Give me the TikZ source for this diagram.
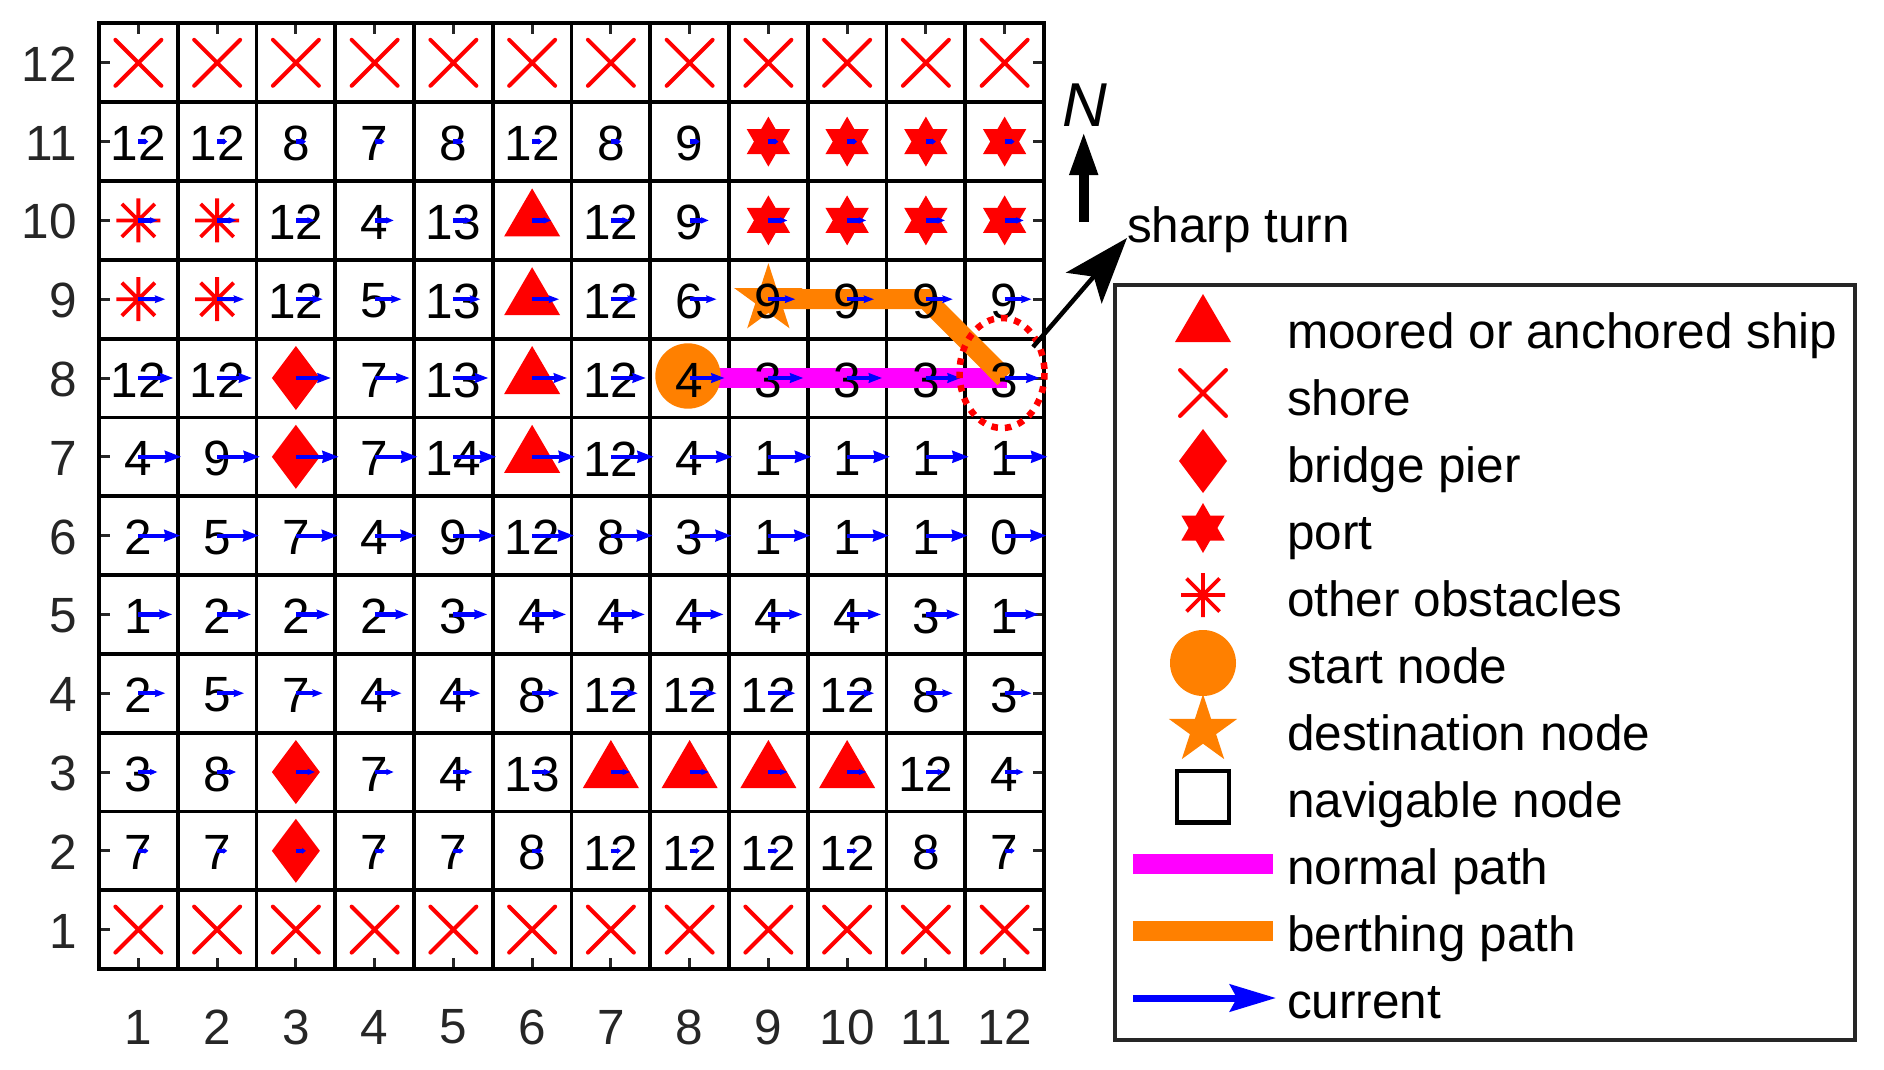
\documentclass[tikz,border=0pt]{standalone}
\usepackage{fontspec}
\setmainfont{Liberation Sans}
\usetikzlibrary{arrows.meta}
\definecolor{axgray}{HTML}{262626}
\definecolor{pathorange}{HTML}{FF8000}
\definecolor{pathmagenta}{HTML}{FF00FF}
\newcommand{\cellsize}{78.75}
\tikzset{
  x=1pt,y=-1pt,
  txt/.style={font=\fontsize{49.5}{50}\selectfont,inner sep=0pt,outer sep=0pt},
  ticklabel/.style={txt,text=axgray},
  gridline/.style={line width=3.8pt,black},
  tickline/.style={line width=3pt,axgray},
  marktri/.pic={\fill[red] (0,-32) -- (28,16) -- (-28,16) -- cycle;},
  markdia/.pic={\fill[red] (0,-32) -- (24,0) -- (0,32) -- (-24,0) -- cycle;},
  markcross/.pic={\draw[red,line width=4pt,line cap=round] (-23,-23) -- (23,23) (-23,23) -- (23,-23);},
  markhex/.pic={\fill[red] (0,-25) -- (7.2,-12.5) -- (21.65,-12.5) -- (14.4,0) -- (21.65,12.5) -- (7.2,12.5) -- (0,25) -- (-7.2,12.5) -- (-21.65,12.5) -- (-14.4,0) -- (-21.65,-12.5) -- (-7.2,-12.5) -- cycle;},
  markast/.pic={\draw[red,line width=3.8pt] (-22,0) -- (22,0) (0,-22) -- (0,22) (-16.5,-16.5) -- (16.5,16.5) (-16.5,16.5) -- (16.5,-16.5);},
  markstar/.pic={\fill[pathorange] (0,-36) -- (8.1,-11.1) -- (34.2,-11.1) -- (13.1,4.2) -- (21.2,29.1) -- (0,13.7) -- (-21.2,29.1) -- (-13.1,4.2) -- (-34.2,-11.1) -- (-8.1,-11.1) -- cycle;},
  normalpath/.style={line width=19.5pt,pathmagenta},
  berthpath/.style={line width=20pt,pathorange,line join=miter},
  lgdtxt/.style={txt,anchor=base west},
}
\begin{document}
\begin{tikzpicture}
\useasboundingbox (0,0) rectangle (1884,1070);
\fill[white] (0,0) rectangle (1884,1070);
% named cell centres
\foreach \c in {1,...,12}{\foreach \r in {1,...,12}{
  \coordinate (cell-\c-\r) at ({99+(\c-0.5)*\cellsize},{969-(\r-0.5)*78.8});
}}
% ticks
\foreach \k in {1,...,12}{
  \draw[tickline] (99,{969-(\k-0.5)*78.8}) -- (110,{969-(\k-0.5)*78.8});
  \draw[tickline] (1044,{969-(\k-0.5)*78.8}) -- (1033,{969-(\k-0.5)*78.8});
  \draw[tickline] ({99+(\k-0.5)*\cellsize},969) -- ({99+(\k-0.5)*\cellsize},958);
  \draw[tickline] ({99+(\k-0.5)*\cellsize},23) -- ({99+(\k-0.5)*\cellsize},34);
  \node[ticklabel,anchor=east] (ylab-\k) at (77,{969-(\k-0.5)*78.8+1.5}) {\k};
  \node[ticklabel] (xlab-\k) at ({99+(\k-0.5)*\cellsize},1027) {\k};
}
% grid
\foreach \k in {0,...,12}{
  \draw[gridline] ({99+\k*\cellsize},21.5) -- ({99+\k*\cellsize},970.9);
  \draw[gridline] (97.1,{969-\k*78.8}) -- (1045.9,{969-\k*78.8});
}
% markers
\foreach \c in {1,...,12}{
  \pic at (cell-\c-1) {markcross};
  \pic at (cell-\c-12) {markcross};
}
\foreach \c/\r in {6/10,6/9,6/8,6/7,7/3,8/3,9/3,10/3}{\pic at (cell-\c-\r) {marktri};}
\foreach \c/\r in {3/8,3/7,3/3,3/2}{\pic at (cell-\c-\r) {markdia};}
\foreach \c/\r in {9/11,10/11,11/11,12/11,9/10,10/10,11/10,12/10}{\pic at (cell-\c-\r) {markhex};}
\foreach \c/\r in {1/10,2/10,1/9,2/9}{\pic at (cell-\c-\r) {markast};}
% paths
\draw[normalpath] (cell-8-8) -- ([xshift=2pt]cell-12-8);
\pic at (cell-9-9) {markstar};
\draw[berthpath] (cell-9-9) -- (cell-11-9) -- (cell-12-8);
\fill[pathorange] (688,376) circle[radius=32.7];
% digits
\foreach \r/\vals in {
  11/{12,12,8,7,8,12,8,9,-,-,-,-},
  10/{-,-,12,4,13,-,12,9,-,-,-,-},
  9/{-,-,12,5,13,-,12,6,9,9,9,9},
  8/{12,12,-,7,13,-,12,4,3,3,3,3},
  7/{4,9,-,7,14,-,12,4,1,1,1,1},
  6/{2,5,7,4,9,12,8,3,1,1,1,0},
  5/{1,2,2,2,3,4,4,4,4,4,3,1},
  4/{2,5,7,4,4,8,12,12,12,12,8,3},
  3/{3,8,-,7,4,13,-,-,-,-,12,4},
  2/{7,7,-,7,7,8,12,12,12,12,8,7}}{
  \foreach \v [count=\c] in \vals {
    \def\nodig{-}
    \ifx\v\nodig\else
      \node[txt] (num-\c-\r) at ([yshift=-2pt]cell-\c-\r) {\v};
    \fi
  }
}
% current arrows
\foreach \r/\len in {11/10,10/19,9/27,8/35,7/43,6/42,5/34,4/27,3/19,2/10}{
  \pgfmathsetmacro{\hl}{0.38*\len}
  \pgfmathsetmacro{\hw}{max(6,0.27*\len)}
  \foreach \c in {1,...,12}{
    \coordinate (curend-\c-\r) at ([xshift=\len pt]cell-\c-\r);
    \draw[blue,line width=4.2pt,-{Stealth[length=\hl pt,width=\hw pt,inset=1pt]}] (cell-\c-\r) -- (curend-\c-\r);
  }
}
% sharp turn marker
\draw[red,line width=6.5pt,dash pattern=on 6.5pt off 7pt] (1002,373) ellipse[x radius=42.5,y radius=55];
\node[txt,anchor=base west] (sharp) at (1127,242.5) {sharp turn};
\coordinate (sharptail) at (1033,347);
\coordinate (sharptip) at (1127,238);
\draw[black,line width=4.5pt,-{Stealth[length=66pt,width=47pt,inset=15pt]}] (sharptail) -- (sharptip);
% north arrow
\node[txt,font=\fontsize{62}{62}\selectfont\itshape] (north) at (1084.5,105) {N};
\coordinate (ntail) at (1083.7,222);
\coordinate (ntip) at (1083.7,131);
\draw[black,line width=10pt,-{Triangle[length=44pt,width=26pt]}] (ntail) -- (ntip);
% legend
\node[draw=axgray,line width=3.6pt,fill=white,minimum width=740pt,minimum height=755pt,inner sep=0pt,outer sep=0pt] (legend) at (1485,662.5) {};
\pic at (1203,326) {marktri};
\pic at (1203,393) {markcross};
\pic at (1203,461) {markdia};
\pic at (1203,528) {markhex};
\pic at (1203,595) {markast};
\fill[pathorange] (1203,663) circle[radius=33];
\pic at (1203,730) {markstar};
\draw[black,line width=4.4pt] (1177,771) rectangle (1229,822.5);
\draw[normalpath,line width=20pt] (1133,864) -- (1273,864);
\draw[berthpath] (1133,931) -- (1273,931);
\draw[blue,line width=7pt,-{Stealth[length=46pt,width=27pt,inset=7pt]}] (1133,998) -- (1276,998);
\foreach \t [count=\i from 0] in {moored or anchored ship,shore,bridge pier,port,other obstacles,start node,destination node,navigable node,normal path,berthing path,current}{
  \node[lgdtxt] (lgd-\i) at (1287,{348+67*\i}) {\t};
}
\end{tikzpicture}
\end{document}
